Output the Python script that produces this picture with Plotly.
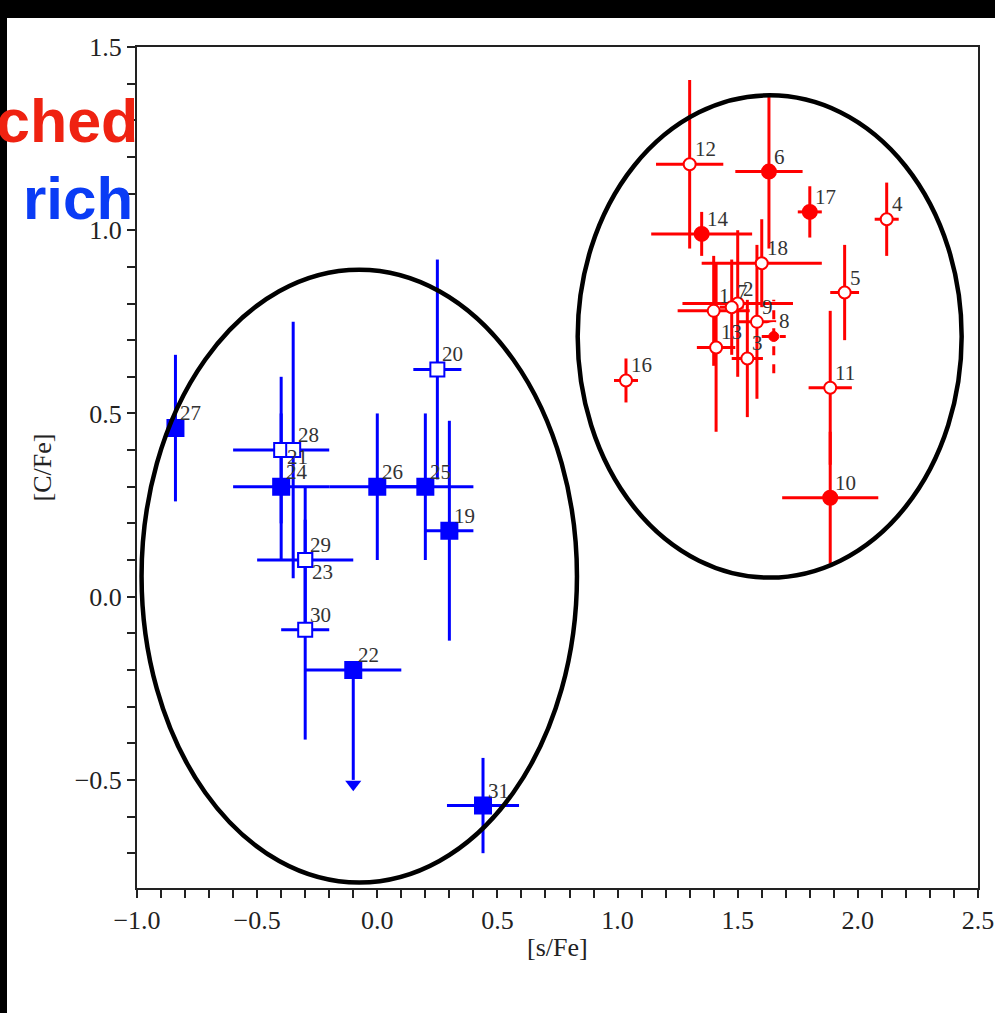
import plotly.graph_objects as go

# ---------------- data ----------------
# blue group (squares)
blue_id = ["19", "20", "21", "22", "23", "24", "25", "26", "27", "28", "29", "30", "31"]
blue_sfe = [0.30, 0.25, -0.40, -0.10, -0.30, -0.40, 0.20, 0.00, -0.84, -0.35, -0.30, -0.30, 0.44]
blue_cfe = [0.18, 0.62, 0.40, -0.20, 0.10, 0.30, 0.30, 0.30, 0.46, 0.40, 0.10, -0.09, -0.57]
blue_sfe_err = [0.10, 0.10, 0.20, 0.20, 0.00, 0.20, 0.20, 0.20, 0.00, 0.00, 0.20, 0.10, 0.15]
blue_cfe_err = [0.30, 0.30, 0.20, 0.00, 0.20, 0.20, 0.20, 0.20, 0.20, 0.35, 0.00, 0.30, 0.13]
blue_filled = [True, False, False, True, False, True, True, True, True, False, False, False, True]
blue_upper_limit = [0.0, 0.0, 0.0, 0.30, 0.0, 0.0, 0.0, 0.0, 0.0, 0.0, 0.0, 0.0, 0.0]

# red group (circles)
red_id = ["1", "2", "3", "4", "5", "6", "7", "8", "9", "10", "11", "12", "13", "14", "16", "17", "18"]
red_sfe = [1.40, 1.50, 1.54, 2.12, 1.945, 1.63, 1.475, 1.65, 1.58, 1.885, 1.885, 1.30, 1.41, 1.35, 1.035, 1.80, 1.60]
red_cfe = [0.78, 0.80, 0.65, 1.03, 0.83, 1.16, 0.79, 0.71, 0.75, 0.27, 0.57, 1.18, 0.68, 0.99, 0.59, 1.05, 0.91]
red_sfe_err = [0.15, 0.23, 0.065, 0.05, 0.06, 0.14, 0.05, 0.05, 0.08, 0.20, 0.09, 0.14, 0.08, 0.21, 0.05, 0.05, 0.25]
red_cfe_err = [0.15, 0.20, 0.16, 0.10, 0.13, 0.21, 0.13, 0.10, 0.21, 0.18, 0.21, 0.23, 0.23, 0.06, 0.06, 0.07, 0.12]
red_kind = ["open", "open", "open", "open", "open", "filled", "open", "dashed", "open", "filled",
            "open", "open", "open", "filled", "open", "filled", "open"]

# group ellipses: centre and semi-axes in data units
ellipse_sfe_center = [-0.075, 1.633]
ellipse_cfe_center = [0.056, 0.710]
ellipse_sfe_radius = [0.906, 0.799]
ellipse_cfe_radius = [0.836, 0.658]

# ---------------- style ----------------
RED = "#ff0000"
BLUE = "#0000ff"
SERIF = "Liberation Serif"
W, H = 995, 1013
ML, MR, MT, MB = 137, 17, 47, 125
PW, PH = W - ML - MR, H - MT - MB

fig = go.Figure()


def subset(lst, mask):
    return [v for v, m in zip(lst, mask) if m]


# blue squares
for filled in (True, False):
    mask = [f == filled for f in blue_filled]
    fig.add_trace(go.Scatter(
        x=subset(blue_sfe, mask), y=subset(blue_cfe, mask), mode="markers",
        marker=dict(symbol="square", size=16 if filled else 14,
                    color=BLUE if filled else "white",
                    line=dict(color=BLUE, width=2)),
        error_x=dict(type="data", array=subset(blue_sfe_err, mask), thickness=3, width=0, color=BLUE),
        error_y=dict(type="data", array=subset(blue_cfe_err, mask),
                     arrayminus=[max(e, u) for e, u in zip(subset(blue_cfe_err, mask), subset(blue_upper_limit, mask))],
                     symmetric=False, thickness=3, width=0, color=BLUE),
        showlegend=False, hoverinfo="skip", cliponaxis=False))

# upper-limit arrow heads
ul_x = [x for x, u in zip(blue_sfe, blue_upper_limit) if u > 0]
ul_y = [y - u - 0.012 for y, u in zip(blue_cfe, blue_upper_limit) if u > 0]
fig.add_trace(go.Scatter(x=ul_x, y=ul_y, mode="markers",
                         marker=dict(symbol="triangle-down", size=14, color=BLUE, line=dict(width=0)),
                         showlegend=False, hoverinfo="skip"))

# red circles (open & filled)
for kind in ("open", "filled"):
    mask = [k == kind for k in red_kind]
    fig.add_trace(go.Scatter(
        x=subset(red_sfe, mask), y=subset(red_cfe, mask), mode="markers",
        marker=dict(symbol="circle", size=12 if kind == "open" else 14,
                    color="white" if kind == "open" else RED,
                    line=dict(color=RED, width=2)),
        error_x=dict(type="data", array=subset(red_sfe_err, mask), thickness=3, width=0, color=RED),
        error_y=dict(type="data", array=subset(red_cfe_err, mask), thickness=3, width=0, color=RED),
        showlegend=False, hoverinfo="skip"))

# the dashed point
for x, y, ex, ey, k in zip(red_sfe, red_cfe, red_sfe_err, red_cfe_err, red_kind):
    if k != "dashed":
        continue
    fig.add_trace(go.Scatter(x=[x], y=[y], mode="markers",
                             marker=dict(symbol="circle-open", size=26, color="white", line=dict(color="white", width=3)),
                             showlegend=False, hoverinfo="skip"))
    fig.add_trace(go.Scatter(x=[x - ex, x + ex, None, x, x], y=[y, y, None, y - ey, y + ey], mode="lines",
                             line=dict(color=RED, width=3, dash="dash"),
                             showlegend=False, hoverinfo="skip"))
    fig.add_trace(go.Scatter(x=[x], y=[y], mode="markers",
                             marker=dict(symbol="circle", size=10, color=RED, line=dict(color=RED, width=1)),
                             showlegend=False, hoverinfo="skip"))

# point labels
label_shift = {"21": (4, -21), "23": (5, -26)}
annotations = []
for ids, xs, ys in ((blue_id, blue_sfe, blue_cfe), (red_id, red_sfe, red_cfe)):
    for i, x, y in zip(ids, xs, ys):
        dx, dy = label_shift.get(i, (3, 1))
        annotations.append(dict(x=x, y=y, xref="x", yref="y", text=i, showarrow=False,
                                xanchor="left", yanchor="bottom", xshift=dx, yshift=dy,
                                font=dict(family=SERIF, size=21, color="#333333")))

# axis titles (placed in paper coordinates)
annotations.append(dict(x=0.5, y=-(947 - (H - MB)) / PH,
                        xref="paper", yref="paper", text="[s/Fe]", showarrow=False,
                        xanchor="center", yanchor="middle", font=dict(family=SERIF, size=26, color="#222222")))
annotations.append(dict(x=(42 - ML) / PW, y=0.5, xref="paper", yref="paper", text="[C/Fe]", showarrow=False,
                        textangle=-90, xanchor="center", yanchor="middle",
                        font=dict(family=SERIF, size=26, color="#222222")))

# cropped slide words
annotations.append(dict(x=(140 - ML) / PW, y=((H - MB) - 121) / PH, xref="paper", yref="paper", text="<b>ched</b>",
                        showarrow=False, xanchor="right", yanchor="middle",
                        font=dict(family="Liberation Sans", size=61, color="#ef2211")))
annotations.append(dict(x=(135 - ML) / PW, y=((H - MB) - 198) / PH, xref="paper", yref="paper", text="<b>rich</b>",
                        showarrow=False, xanchor="right", yanchor="middle",
                        font=dict(family="Liberation Sans", size=60, color="#0a3cf5")))

shapes = []
for cx, cy, rx, ry in zip(ellipse_sfe_center, ellipse_cfe_center, ellipse_sfe_radius, ellipse_cfe_radius):
    shapes.append(dict(type="circle", xref="x", yref="y", x0=cx - rx, x1=cx + rx, y0=cy - ry, y1=cy + ry,
                       line=dict(color="black", width=4.5), layer="above"))
# black slide edges
shapes.append(dict(type="rect", xref="paper", yref="paper", x0=-ML / PW, x1=(W - ML) / PW,
                   y0=1 + (MT - 18) / PH, y1=1 + MT / PH, fillcolor="black", line=dict(width=0), layer="below"))
shapes.append(dict(type="rect", xref="paper", yref="paper", x0=-ML / PW, x1=(7 - ML) / PW,
                   y0=-MB / PH, y1=1 + MT / PH, fillcolor="black", line=dict(width=0), layer="below"))

axis_common = dict(showgrid=False, zeroline=False, showline=True, linecolor="#222222", linewidth=2, mirror=True,
                   ticks="outside", ticklen=8, tickwidth=2, tickcolor="#222222", tickformat=".1f",
                   automargin=False,
                   tickfont=dict(family=SERIF, size=26, color="#222222"))

fig.update_layout(
    width=W, height=H, autosize=False,
    margin=dict(l=ML, r=MR, t=MT, b=MB, autoexpand=False),
    paper_bgcolor="white", plot_bgcolor="white",
    xaxis=dict(range=[-1.0, 2.5], tickmode="linear", tick0=-1.0, dtick=0.5,
               minor=dict(tickmode="linear", tick0=-1.0, dtick=0.1, ticks="outside", ticklen=8, tickwidth=2,
                          tickcolor="#222222", showgrid=False),
               **axis_common),
    yaxis=dict(range=[-0.795, 1.5], tickmode="linear", tick0=0.0, dtick=0.5,
               minor=dict(tickmode="linear", tick0=0.0, dtick=0.1, ticks="outside", ticklen=8, tickwidth=2,
                          tickcolor="#222222", showgrid=False),
               **axis_common),
    annotations=annotations,
    shapes=shapes,
)

fig.write_html("out.html")
